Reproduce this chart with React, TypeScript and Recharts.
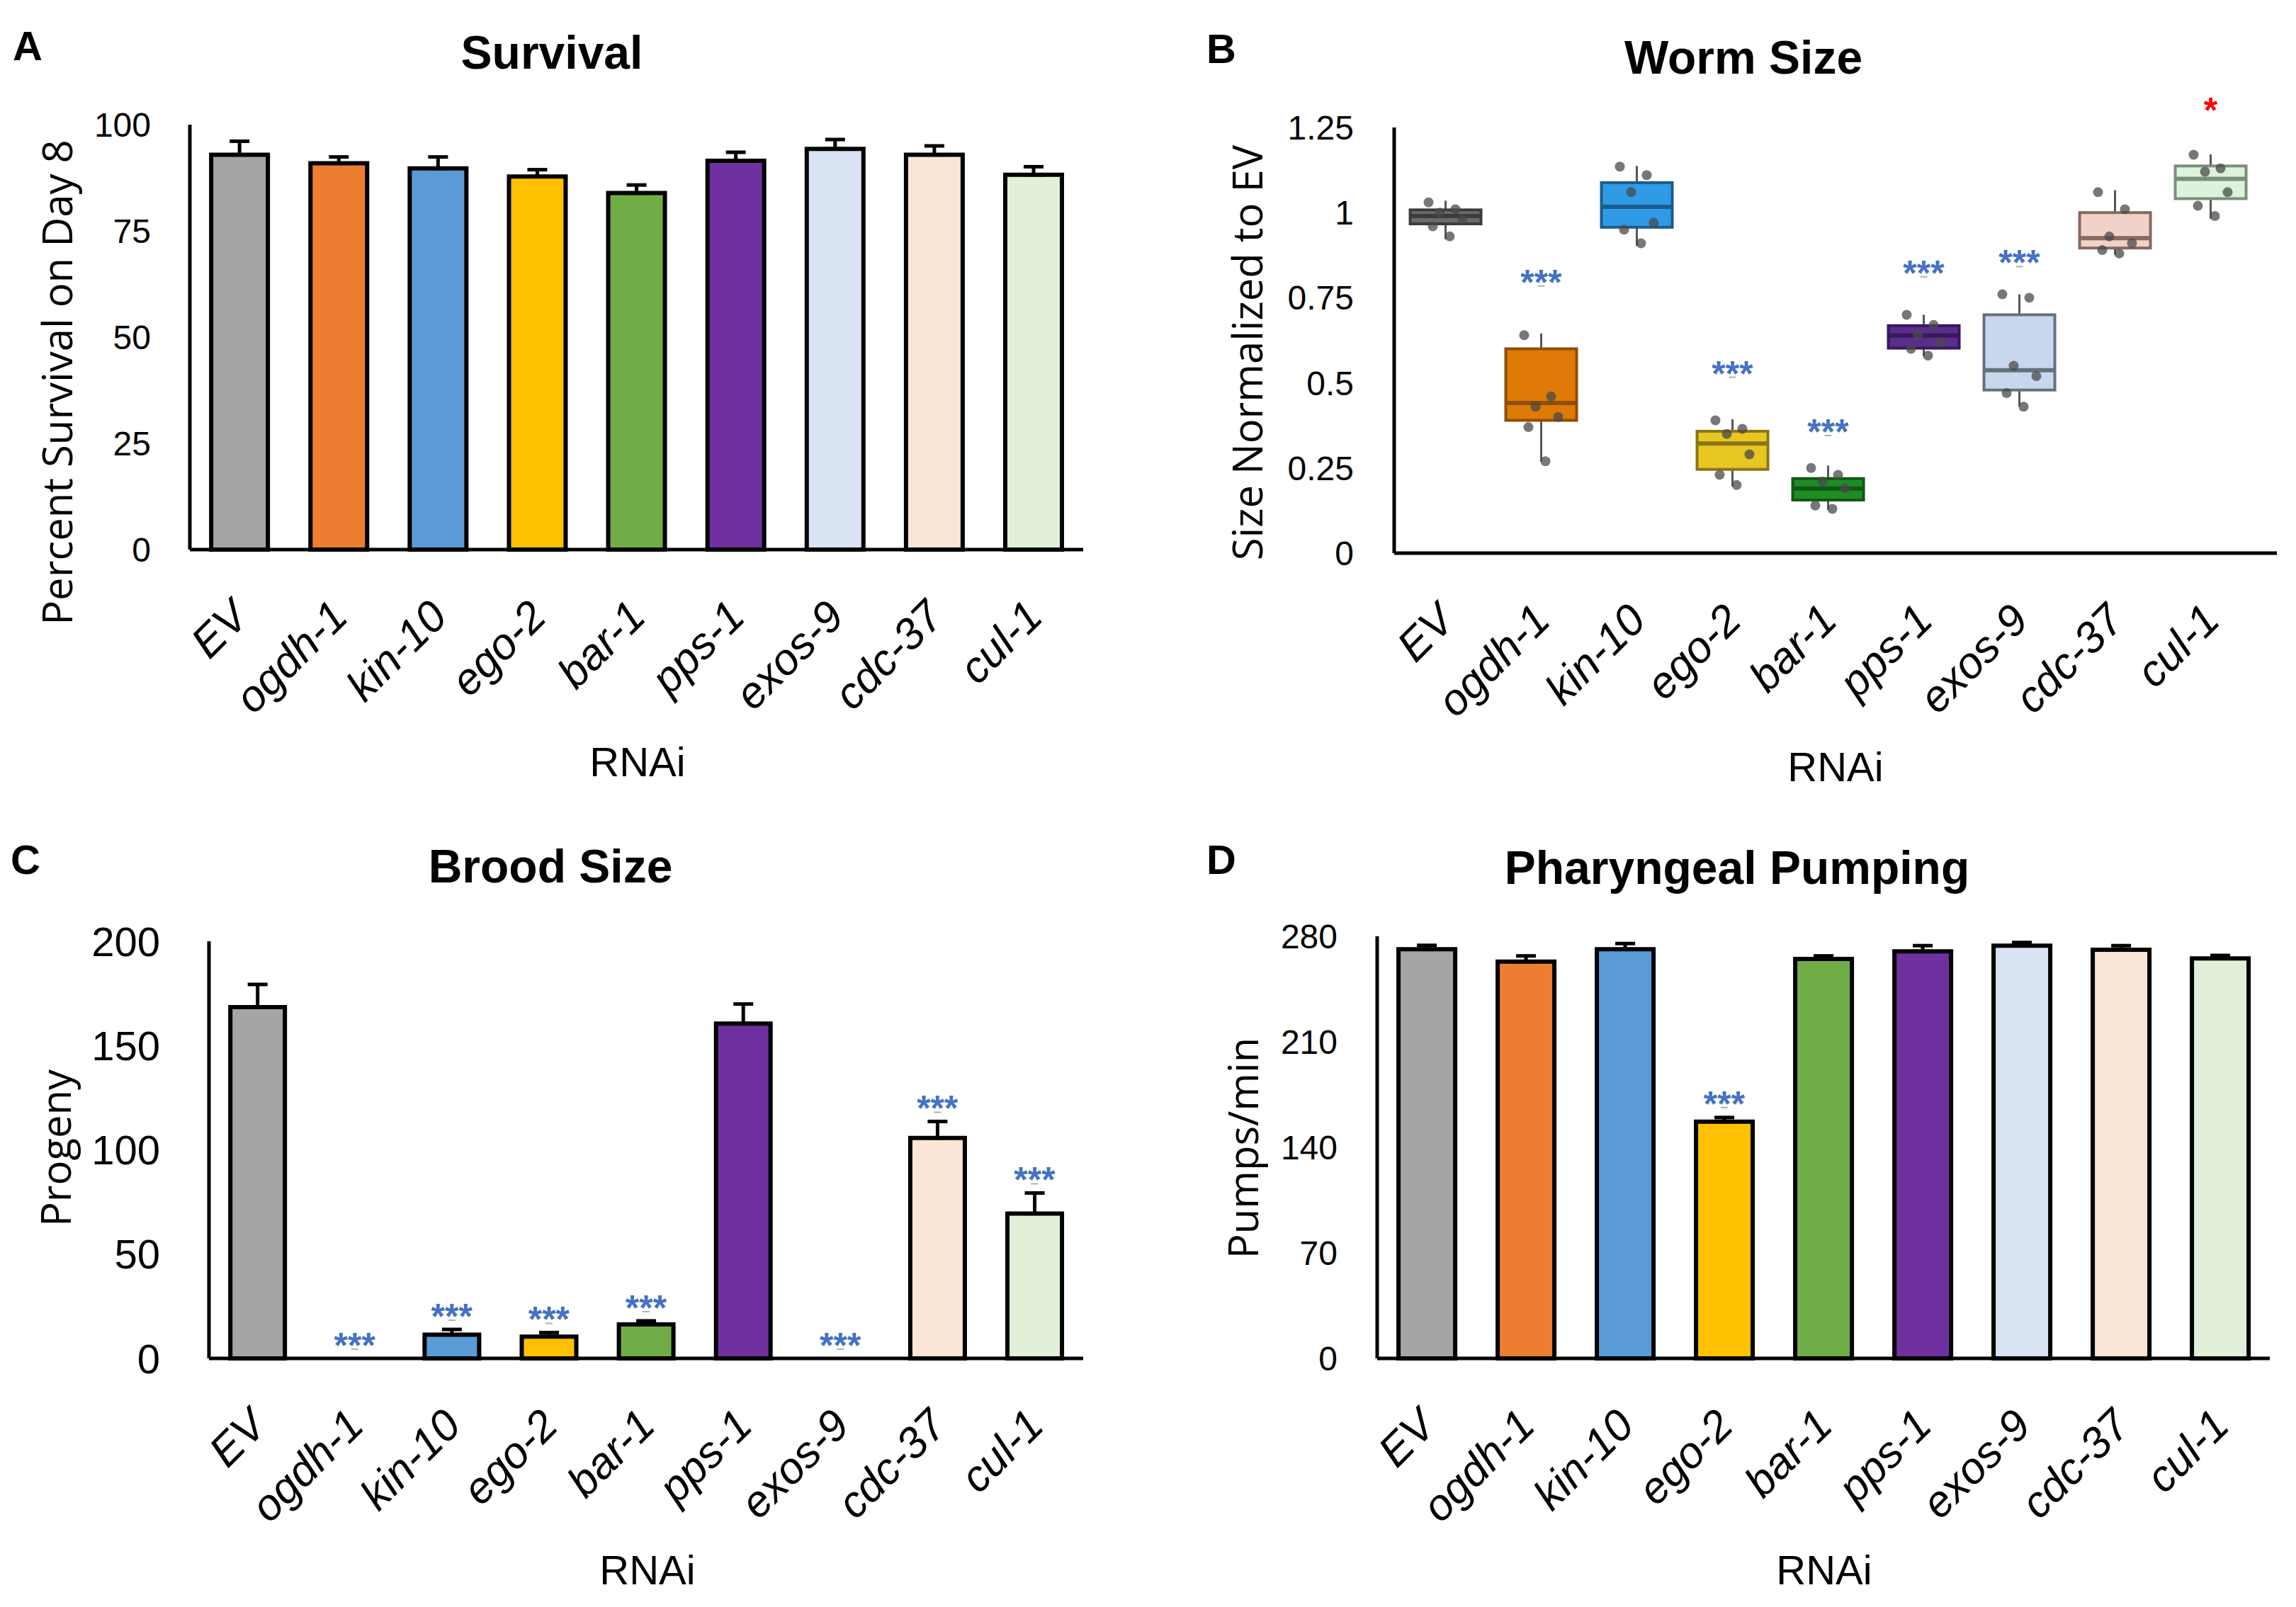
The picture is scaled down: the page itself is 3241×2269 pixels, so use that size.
import React from 'react';
import { ComposedChart, Bar, Cell, ErrorBar, Line, XAxis, YAxis } from 'recharts';

// categories shared by all four panels
const categories = ['EV', 'ogdh-1', 'kin-10', 'ego-2', 'bar-1', 'pps-1', 'exos-9', 'cdc-37', 'cul-1'];
const barColors = ['#A5A5A5', '#ED7D31', '#5B9BD5', '#FFC000', '#70AD47', '#7030A0', '#DAE3F3', '#FBE5D6', '#E2F0D9'];

// A: survival (%)
const survivalMean = [92.9, 90.9, 89.7, 87.8, 83.9, 91.5, 94.3, 92.9, 88.2];
const survivalErr = [3.2, 1.5, 2.7, 1.6, 1.9, 2.0, 2.2, 2.1, 1.9];
const survivalSig = ['', '', '', '', '', '', '', '', ''];
const survivalTicks = [0, 25, 50, 75, 100];

// B: worm size (box plot)
const sizeLo = [0.922, 0.269, 0.902, 0.196, 0.128, 0.579, 0.431, 0.877, 0.982];
const sizeQ1 = [0.967, 0.39, 0.957, 0.246, 0.156, 0.602, 0.479, 0.896, 1.041];
const sizeMed = [0.99, 0.441, 1.017, 0.322, 0.19, 0.639, 0.537, 0.925, 1.099];
const sizeQ3 = [1.008, 0.6, 1.088, 0.358, 0.219, 0.668, 0.7, 1.0, 1.137];
const sizeHi = [1.035, 0.645, 1.137, 0.393, 0.257, 0.7, 0.76, 1.066, 1.171];
const sizePoints = [
  [1.03, 1.01, 1.0, 0.98, 0.96, 0.93],
  [0.64, 0.46, 0.43, 0.4, 0.37, 0.27],
  [1.135, 1.11, 1.06, 0.97, 0.95, 0.91],
  [0.39, 0.365, 0.35, 0.29, 0.23, 0.2],
  [0.25, 0.23, 0.21, 0.19, 0.14, 0.13],
  [0.7, 0.67, 0.64, 0.62, 0.6, 0.58],
  [0.76, 0.75, 0.55, 0.52, 0.47, 0.43],
  [1.06, 1.01, 0.93, 0.91, 0.89, 0.88],
  [1.17, 1.13, 1.12, 1.06, 1.02, 0.99],
];
const sizeSig = ['', '***', '', '***', '***', '***', '***', '', '*'];
const sizeSigAt = [null, 0.824, null, 0.556, 0.385, 0.851, 0.881, null, 1.33];
const sizeTicks = [0, 0.25, 0.5, 0.75, 1, 1.25];
const boxFill = ['#6b6b6b', '#de7a05', '#2f9be6', '#e8c723', '#1f8d25', '#5a2d8c', '#c9d7ee', '#f1d2c9', '#dbf3db'];
const boxEdge = ['#3c3c3c', '#8f4e05', '#1c5d8c', '#8a7614', '#125816', '#38195a', '#66717f', '#86695f', '#7a8f7a'];

// C: brood size
const broodMean = [168.4, 0, 11.4, 10.4, 16.3, 160.5, 0, 105.7, 69.4];
const broodErr = [10.9, 0, 2.5, 2.0, 1.7, 9.4, 0, 7.9, 9.9];
const broodSig = ['', '***', '***', '***', '***', '', '***', '***', '***'];
const broodTicks = [0, 50, 100, 150, 200];

// D: pharyngeal pumping
const pumpMean = [271.4, 263.2, 271.4, 157.0, 265.0, 270.0, 273.8, 271.1, 265.3];
const pumpErr = [2.6, 3.8, 3.8, 2.8, 2.0, 3.8, 2.1, 2.7, 2.0];
const pumpSig = ['', '', '', '***', '', '', '', '', ''];
const pumpTicks = [0, 70, 140, 210, 280];

const ARIAL = "'Liberation Sans', Arial, sans-serif";
const SANS = "'Open Sans', 'Noto Sans', sans-serif";
const W = 1621;
const H = 1135;
const YW = 200;
const XH = 200;
const jitter = [-24, 14, -8, 24, -18, 6];

const barRows = (values: number[], errs: number[], sig: string[]) =>
  categories.map((name, i) => ({
    name,
    value: values[i],
    err: [0, errs[i]],
    sig: sig[i],
    sigAt: sig[i] ? values[i] + errs[i] : null,
  }));

const sizeRows = categories.map((name, i) => {
  const row: any = {
    name,
    range: [sizeLo[i], sizeHi[i]],
    lo: sizeLo[i], q1: sizeQ1[i], med: sizeMed[i], q3: sizeQ3[i], hi: sizeHi[i],
    sig: sizeSig[i],
    sigAt: sizeSigAt[i],
  };
  sizePoints[i].forEach((v, k) => { row['p' + k] = v; });
  return row;
});

const RotTick = (props: any) => {
  const { x, y, payload } = props;
  const px = x + 16;
  const py = y + 96;
  return (
    <text x={px} y={py} transform={`rotate(-45, ${px}, ${py})`} textAnchor="end"
      fontFamily={ARIAL} fontStyle="italic" fontSize={62} fill="#000">
      {payload.value}
    </text>
  );
};

const SigMark = ({ cx, cy, sig }: any) => {
  const red = sig === '*';
  return (
    <g>
      <text x={cx} y={cy} textAnchor="middle" fontFamily={ARIAL} fontWeight="bold" fontSize={50}
        fill={red ? '#ff0000' : '#4472C4'} dy="0.62em">
        {sig}
      </text>
      {!red && <rect x={cx - 5} y={cy + 18} width={10} height={2} fill="#b0b0b0" />}
    </g>
  );
};

const sigDot = (gap: number) => (p: any) => {
  const key = 'sig-' + p.index;
  if (p.cy == null || !p.payload || !p.payload.sig) return <g key={key} />;
  return <g key={key}><SigMark cx={p.cx} cy={p.cy - gap} sig={p.payload.sig} /></g>;
};

const BoxShape = (props: any) => {
  const { x, y, width, height, payload, index } = props;
  const top = Math.min(y, y + height);
  const h = Math.abs(height);
  const { lo, q1, med, q3, hi, sig, sigAt } = payload;
  const py = (v: number) => top + (h * (hi - v)) / (hi - lo);
  const cx = x + width / 2;
  return (
    <g>
      <line x1={cx} x2={cx} y1={top} y2={top + h} stroke="#555" strokeWidth={3} />
      <rect x={x} y={py(q3)} width={width} height={py(q1) - py(q3)} fill={boxFill[index]}
        stroke={boxEdge[index]} strokeWidth={4} />
      <line x1={x} x2={x + width} y1={py(med)} y2={py(med)} stroke={boxEdge[index]} strokeWidth={6} />
      {sig && sigAt != null && <SigMark cx={cx} cy={py(sigAt)} sig={sig} />}
    </g>
  );
};

const axisLine = { stroke: '#000', strokeWidth: 5 };

type PlotBox = { l: number; r: number; t: number; b: number };

const margins = (p: PlotBox) => ({ top: p.t, right: W - p.r, bottom: H - p.b - XH, left: p.l - YW });

const BarPanel = ({ left, top, rows, domain, ticks, plot, tickFont, tickGap, gap, sigGap }: any) => (
  <div style={{ position: 'absolute', left, top }}>
    <ComposedChart width={W} height={H} data={rows} margin={margins(plot)} barCategoryGap={gap}>
      <XAxis dataKey="name" height={XH} tickLine={false} tickSize={0} axisLine={axisLine}
        tick={<RotTick />} interval={0} />
      <YAxis type="number" width={YW} domain={domain} ticks={ticks} tickLine={false} tickSize={0}
        tickMargin={tickGap} axisLine={axisLine}
        tick={{ fontSize: tickFont, fill: '#000', fontFamily: ARIAL }} />
      <Bar dataKey="value" stroke="#000" strokeWidth={6} isAnimationActive={false}>
        {rows.map((r: any, i: number) => <Cell key={r.name} fill={barColors[i]} />)}
        <ErrorBar dataKey="err" width={14} stroke="#000" strokeWidth={5} direction="y" />
      </Bar>
      <Line dataKey="sigAt" stroke="none" dot={sigDot(sigGap)} activeDot={false}
        isAnimationActive={false} />
    </ComposedChart>
  </div>
);

const SizePanel = ({ left, top }: any) => {
  const plot = { l: 348, r: 1594, t: 180, b: 781 };
  return (
    <div style={{ position: 'absolute', left, top }}>
      <ComposedChart width={W} height={H} data={sizeRows} margin={margins(plot)} barCategoryGap="13%">
        <XAxis dataKey="name" height={XH} tickLine={false} tickSize={0} axisLine={axisLine}
          tick={<RotTick />} interval={0} padding={{ left: 5, right: 26 }} />
        <YAxis type="number" width={YW} domain={[0, 1.25]} ticks={sizeTicks} tickLine={false}
          tickSize={0} tickMargin={57} axisLine={axisLine}
          tick={{ fontSize: 48, fill: '#000', fontFamily: ARIAL }} />
        <Bar dataKey="range" shape={BoxShape} isAnimationActive={false} />
        {jitter.map((off, k) => (
          <Line key={'p' + k} dataKey={'p' + k} stroke="none" activeDot={false} isAnimationActive={false}
            dot={(p: any) => (
              <circle key={'d' + k + '-' + p.index} cx={p.cx + off} cy={p.cy} r={7}
                fill="#4a4a4a" fillOpacity={0.75} />
            )} />
        ))}
      </ComposedChart>
    </div>
  );
};

const Txt = ({ x, y, children, size, bold, family, rotate }: any) => (
  <div style={{
    position: 'absolute', left: x, top: y, whiteSpace: 'nowrap', lineHeight: 1,
    transform: `translate(-50%, -50%)${rotate ? ' rotate(-90deg)' : ''}`,
    fontSize: size, fontWeight: bold ? 'bold' : 'normal', fontFamily: family, color: '#000',
  }}>
    {children}
  </div>
);

export default function App() {
  return (
    <div style={{ position: 'absolute', left: 0, top: 0, width: 3241, height: 2269, background: '#fff', overflow: 'hidden' }}>
      <BarPanel left={0} top={0} rows={barRows(survivalMean, survivalErr, survivalSig)} domain={[0, 100]}
        ticks={survivalTicks} plot={{ l: 268, r: 1529, t: 176, b: 776 }} tickFont={48} tickGap={55}
        gap="21.5%" sigGap={32} />
      <SizePanel left={1620} top={0} />
      <BarPanel left={0} top={1134} rows={barRows(broodMean, broodErr, broodSig)} domain={[0, 200]}
        ticks={broodTicks} plot={{ l: 295, r: 1529, t: 195, b: 784 }} tickFont={58} tickGap={69}
        gap="22%" sigGap={32} />
      <BarPanel left={1620} top={1134} rows={barRows(pumpMean, pumpErr, pumpSig)} domain={[0, 280]}
        ticks={pumpTicks} plot={{ l: 324, r: 1584, t: 188, b: 784 }} tickFont={48} tickGap={56}
        gap="21.5%" sigGap={33} />

      <Txt x={39} y={65} size={58} bold family={ARIAL}>A</Txt>
      <Txt x={1724} y={69} size={58} bold family={ARIAL}>B</Txt>
      <Txt x={36} y={1214} size={58} bold family={ARIAL}>C</Txt>
      <Txt x={1724} y={1214} size={58} bold family={ARIAL}>D</Txt>

      <Txt x={779} y={74} size={66} bold family={ARIAL}>Survival</Txt>
      <Txt x={2461} y={81} size={66} bold family={ARIAL}>Worm Size</Txt>
      <Txt x={777} y={1223} size={66} bold family={ARIAL}>Brood Size</Txt>
      <Txt x={2452} y={1225} size={66} bold family={ARIAL}>Pharyngeal Pumping</Txt>

      <Txt x={80} y={540} size={58} family={SANS} rotate>Percent Survival on Day 8</Txt>
      <Txt x={1760} y={498} size={58} family={SANS} rotate>Size Normalized to EV</Txt>
      <Txt x={78} y={1621} size={58} family={SANS} rotate>Progeny</Txt>
      <Txt x={1754} y={1621} size={58} family={SANS} rotate>Pumps/min</Txt>

      <Txt x={900} y={1076} size={58} family={ARIAL}>RNAi</Txt>
      <Txt x={2591} y={1083} size={58} family={ARIAL}>RNAi</Txt>
      <Txt x={914} y={2217} size={58} family={ARIAL}>RNAi</Txt>
      <Txt x={2575} y={2217} size={58} family={ARIAL}>RNAi</Txt>
    </div>
  );
}
